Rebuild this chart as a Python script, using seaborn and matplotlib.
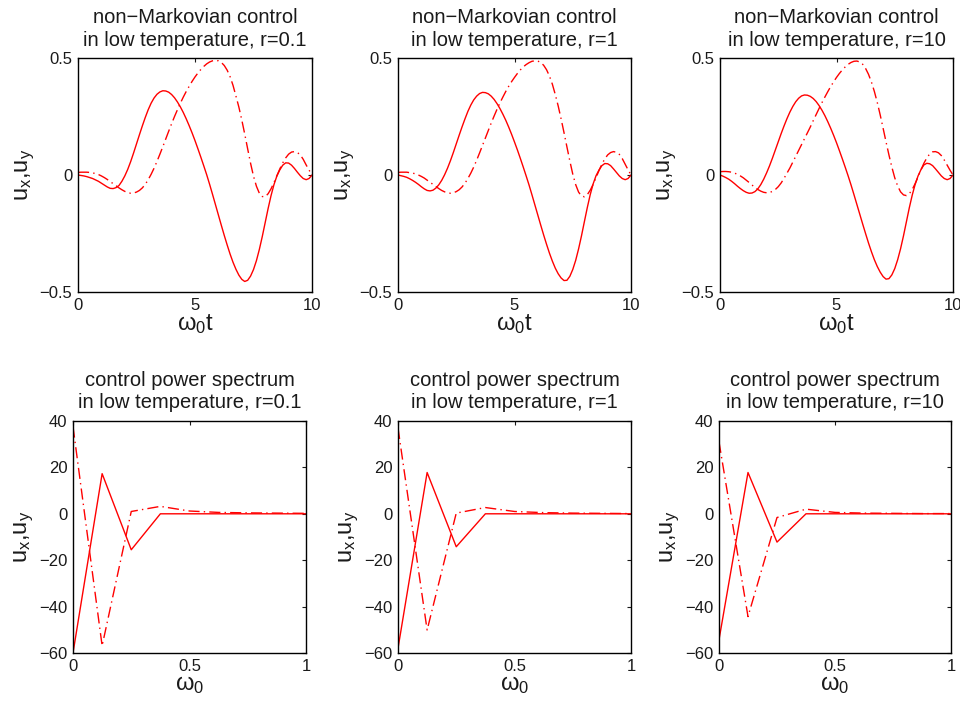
import numpy as np
import pandas as pd
import matplotlib
matplotlib.use("Agg")
import matplotlib.pyplot as plt
import seaborn as sns

# ---- time-domain controls, omega_0 t = 0 .. 10 (step 0.125) ----
t = [i * 0.125 for i in range(81)]

ux_r01 = [0.000, -0.002, -0.004, -0.007, -0.011, -0.015, -0.021, -0.027, -0.035, -0.043,
          -0.051, -0.057, -0.058, -0.054, -0.045, -0.027, -0.004, 0.024, 0.057, 0.094,
          0.133, 0.172, 0.210, 0.246, 0.279, 0.307, 0.329, 0.345, 0.355, 0.360,
          0.359, 0.354, 0.344, 0.330, 0.312, 0.291, 0.267, 0.240, 0.211, 0.180,
          0.147, 0.112, 0.076, 0.039, 0.001, -0.040, -0.083, -0.127, -0.171, -0.215,
          -0.258, -0.299, -0.338, -0.373, -0.403, -0.428, -0.446, -0.455, -0.450, -0.432,
          -0.404, -0.366, -0.318, -0.263, -0.203, -0.143, -0.088, -0.041, -0.004, 0.022,
          0.042, 0.052, 0.051, 0.042, 0.028, 0.012, -0.003, -0.015, -0.020, -0.015,
          0.000]
uy_r01 = [0.011, 0.012, 0.012, 0.012, 0.011, 0.009, 0.006, 0.002, -0.004, -0.011,
          -0.019, -0.028, -0.037, -0.046, -0.055, -0.063, -0.070, -0.075, -0.078, -0.077,
          -0.073, -0.066, -0.055, -0.040, -0.020, 0.003, 0.029, 0.058, 0.089, 0.121,
          0.154, 0.187, 0.219, 0.250, 0.279, 0.307, 0.333, 0.357, 0.379, 0.400,
          0.419, 0.436, 0.451, 0.464, 0.475, 0.483, 0.488, 0.490, 0.488, 0.481,
          0.468, 0.448, 0.420, 0.383, 0.337, 0.290, 0.235, 0.175, 0.112, 0.050,
          -0.005, -0.048, -0.078, -0.092, -0.093, -0.080, -0.059, -0.032, -0.003, 0.026,
          0.052, 0.073, 0.089, 0.098, 0.100, 0.096, 0.086, 0.067, 0.043, 0.021,
          0.000]

ux_r1 = [0.000, -0.003, -0.006, -0.010, -0.016, -0.023, -0.031, -0.040, -0.050, -0.059,
         -0.066, -0.068, -0.065, -0.056, -0.042, -0.023, 0.001, 0.029, 0.061, 0.096,
         0.133, 0.170, 0.206, 0.240, 0.272, 0.299, 0.321, 0.337, 0.348, 0.353,
         0.352, 0.347, 0.337, 0.323, 0.305, 0.284, 0.260, 0.234, 0.205, 0.174,
         0.141, 0.107, 0.071, 0.034, -0.004, -0.043, -0.085, -0.128, -0.171, -0.214,
         -0.256, -0.296, -0.334, -0.368, -0.398, -0.422, -0.440, -0.451, -0.450, -0.433,
         -0.404, -0.365, -0.316, -0.260, -0.199, -0.139, -0.084, -0.038, -0.003, 0.021,
         0.040, 0.049, 0.048, 0.040, 0.026, 0.011, -0.004, -0.015, -0.020, -0.015,
         0.000]
uy_r1 = [0.011, 0.012, 0.012, 0.012, 0.010, 0.008, 0.005, 0.000, -0.006, -0.013,
         -0.022, -0.031, -0.040, -0.049, -0.058, -0.066, -0.072, -0.076, -0.078, -0.076,
         -0.071, -0.063, -0.051, -0.035, -0.015, 0.008, 0.034, 0.063, 0.094, 0.126,
         0.158, 0.190, 0.222, 0.252, 0.281, 0.308, 0.333, 0.357, 0.379, 0.399,
         0.417, 0.434, 0.449, 0.462, 0.472, 0.480, 0.486, 0.488, 0.487, 0.481,
         0.469, 0.450, 0.423, 0.388, 0.344, 0.295, 0.240, 0.181, 0.120, 0.060,
         0.004, -0.041, -0.073, -0.090, -0.093, -0.084, -0.065, -0.040, -0.011, 0.019,
         0.046, 0.069, 0.086, 0.096, 0.100, 0.097, 0.088, 0.070, 0.046, 0.022,
         0.000]

ux_r10 = [0.000, -0.005, -0.011, -0.018, -0.027, -0.037, -0.048, -0.058, -0.067, -0.074,
          -0.078, -0.077, -0.071, -0.059, -0.041, -0.018, 0.009, 0.039, 0.072, 0.107,
          0.142, 0.177, 0.210, 0.241, 0.269, 0.293, 0.313, 0.328, 0.338, 0.342,
          0.341, 0.336, 0.327, 0.314, 0.297, 0.277, 0.254, 0.228, 0.200, 0.170,
          0.138, 0.104, 0.069, 0.033, -0.004, -0.043, -0.084, -0.126, -0.168, -0.210,
          -0.251, -0.291, -0.328, -0.362, -0.391, -0.415, -0.434, -0.445, -0.443, -0.427,
          -0.400, -0.362, -0.315, -0.260, -0.200, -0.140, -0.086, -0.040, -0.004, 0.023,
          0.043, 0.050, 0.048, 0.040, 0.026, 0.011, -0.004, -0.015, -0.020, -0.015,
          0.000]
uy_r10 = [0.014, 0.015, 0.015, 0.014, 0.012, 0.008, 0.003, -0.004, -0.012, -0.022,
          -0.032, -0.043, -0.053, -0.062, -0.069, -0.074, -0.076, -0.075, -0.070, -0.062,
          -0.050, -0.034, -0.014, 0.008, 0.030, 0.055, 0.080, 0.105, 0.130, 0.155,
          0.180, 0.205, 0.232, 0.258, 0.284, 0.309, 0.333, 0.356, 0.378, 0.398,
          0.417, 0.434, 0.449, 0.462, 0.473, 0.481, 0.486, 0.487, 0.483, 0.473,
          0.455, 0.430, 0.397, 0.357, 0.310, 0.257, 0.200, 0.142, 0.086, 0.034,
          -0.012, -0.047, -0.072, -0.085, -0.088, -0.080, -0.062, -0.037, -0.008, 0.022,
          0.050, 0.073, 0.090, 0.099, 0.100, 0.095, 0.083, 0.064, 0.042, 0.020,
          0.000]

# ---- power spectra, omega_0 = 0 .. 1 (step 1/8) ----
w = [i / 8 for i in range(9)]

px_r01 = [-60.0, 17.3, -15.5, 0.0, 0.0, 0.0, 0.0, 0.0, 0.0]
py_r01 = [37.6, -56.9, 1.0, 3.2, 1.2, 0.6, 0.4, 0.3, 0.2]

px_r1 = [-58.0, 17.8, -14.2, 0.0, 0.0, 0.0, 0.0, 0.0, 0.0]
py_r1 = [37.0, -50.1, 0.3, 2.7, 1.0, 0.5, 0.3, 0.2, 0.1]

px_r10 = [-54.3, 17.8, -12.2, 0.0, 0.0, 0.0, 0.0, 0.0, 0.0]
py_r10 = [31.0, -44.3, -1.6, 2.0, 0.6, 0.3, 0.2, 0.1, 0.1]

r_labels = ["0.1", "1", "10"]
time_series = [(ux_r01, uy_r01), (ux_r1, uy_r1), (ux_r10, uy_r10)]
spec_series = [(px_r01, py_r01), (px_r1, py_r1), (px_r10, py_r10)]

top_ticks_x = [0, 5, 10]
top_ticks_y = [-0.5, 0, 0.5]
top_ticklabels_y = ["\u22120.5", "0", "0.5"]
bot_ticks_x = [0, 0.5, 1]
bot_ticklabels_x = ["0", "0.5", "1"]
bot_ticks_y = [-60, -40, -20, 0, 20, 40]
bot_ticklabels_y = ["\u221260", "\u221240", "\u221220", "0", "20", "40"]

sns.set_theme(style="white")
plt.rcParams["font.family"] = ["Liberation Sans", "DejaVu Sans"]
plt.rcParams["mathtext.default"] = "regular"
plt.rcParams["axes.linewidth"] = 1.0

fig = plt.figure(figsize=(9.6, 7.06), dpi=100)

W, H = 960.0, 706.0
top_boxes = [(78, 58, 234, 234), (398, 58, 233, 234), (720, 58, 233, 234)]
bot_boxes = [(73, 421, 233, 232), (398, 421, 233, 232), (719, 421, 232, 232)]

text_color = "#1a1a1a"
solid_kw = dict(color="#ff0000", linewidth=1.0)
dashdot_kw = dict(color="#ff0000", linewidth=1.0, linestyle=(0, (8, 3, 1, 3)))


def make_axes(box):
    x0, y0, bw, bh = box
    ax = fig.add_axes([x0 / W, 1 - (y0 + bh) / H, bw / W, bh / H])
    for s in ax.spines.values():
        s.set_color("black")
        s.set_linewidth(1.0)
    ax.tick_params(direction="in", length=3, width=0.8, top=True, right=True,
                   labelsize=12, colors=text_color, pad=4)
    return ax


for i, r in enumerate(r_labels):
    # time-domain panel
    ax = make_axes(top_boxes[i])
    ux, uy = time_series[i]
    df = pd.DataFrame({"t": t, "ux": ux, "uy": uy})
    sns.lineplot(data=df, x="t", y="ux", ax=ax, estimator=None, sort=False, **solid_kw)
    sns.lineplot(data=df, x="t", y="uy", ax=ax, estimator=None, sort=False, **dashdot_kw)
    ax.set_xlim(0, 10)
    ax.set_ylim(-0.5, 0.5)
    ax.set_xticks(top_ticks_x)
    ax.set_xticklabels([str(v) for v in top_ticks_x])
    ax.set_yticks(top_ticks_y)
    ax.set_yticklabels(top_ticklabels_y)
    ax.set_xlabel(r"$\omega_0 t$", fontsize=17, labelpad=0, color=text_color)
    ax.set_ylabel(r"$u_x$,$u_y$", fontsize=17, labelpad=2, color=text_color)
    ax.set_title("non\u2212Markovian control\nin low temperature, r=" + r,
                 fontsize=14.5, pad=9, linespacing=1.25, color=text_color)

    # spectrum panel
    ax = make_axes(bot_boxes[i])
    px, py = spec_series[i]
    ds = pd.DataFrame({"w": w, "px": px, "py": py})
    sns.lineplot(data=ds, x="w", y="px", ax=ax, estimator=None, sort=False, **solid_kw)
    sns.lineplot(data=ds, x="w", y="py", ax=ax, estimator=None, sort=False, **dashdot_kw)
    ax.set_xlim(0, 1)
    ax.set_ylim(-60, 40)
    ax.set_xticks(bot_ticks_x)
    ax.set_xticklabels(bot_ticklabels_x)
    ax.set_yticks(bot_ticks_y)
    ax.set_yticklabels(bot_ticklabels_y)
    ax.set_xlabel(r"$\omega_0$", fontsize=17, labelpad=0, color=text_color)
    ax.set_ylabel(r"$u_x$,$u_y$", fontsize=17, labelpad=2, color=text_color)
    ax.set_title("control power spectrum\nin low temperature, r=" + r,
                 fontsize=14.5, pad=9, linespacing=1.25, color=text_color)

fig.savefig("out.png", dpi=100)
